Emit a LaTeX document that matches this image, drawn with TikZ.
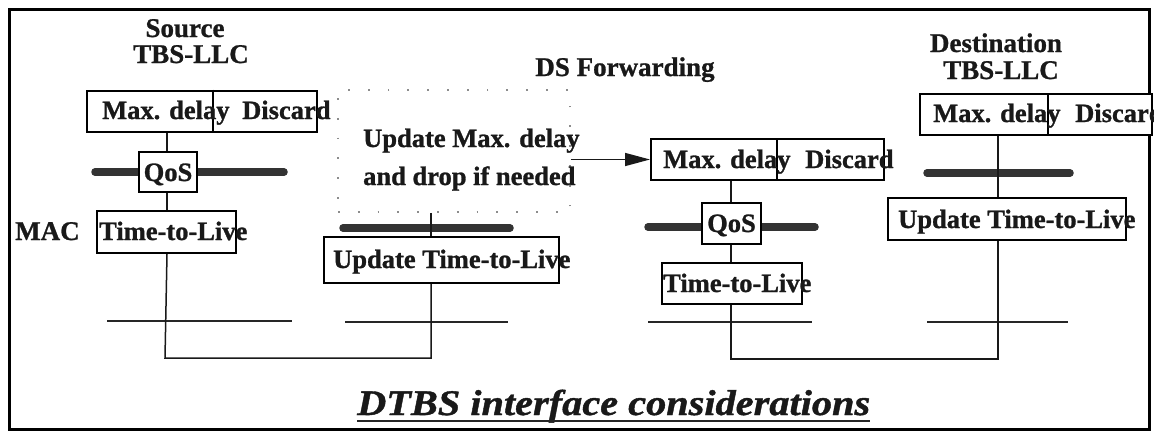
\documentclass[tikz,border=0pt]{standalone}
\usepackage{fontspec}
\setmainfont{Liberation Serif}[FakeBold=0.9]
\newfontfamily\boxfont{Liberation Serif}[FakeBold=1.0]
\newfontfamily\titlefont{Liberation Serif}[FakeStretch=1.12,FakeBold=1.1]
\usetikzlibrary{arrows.meta}
\begin{document}
\begin{tikzpicture}[x=1pt,y=-1pt,
  box/.style={draw=black, line width=2pt, fill=white, inner sep=0pt},
  btxt/.style={inner sep=0pt, text=black!90, font=\boxfont\bfseries\fontsize{26.5}{28}\selectfont},
  ltxt/.style={inner sep=0pt, text=black!90, font=\bfseries\fontsize{27}{30}\selectfont},
  bar/.style={line width=7.5pt, line cap=round, draw=black!80},
  thin/.style={line width=1.4pt, draw=black!85},
  conn/.style={line width=1.5pt, draw=black!90},
  dotbox/.style={draw=black!45, line width=1.8pt, dash pattern=on 1.8pt off 18pt, inner sep=0pt}]
\useasboundingbox (0,0) rectangle (1154,434);
\clip (0,0) rectangle (1154,434);
\fill[white] (0,0) rectangle (1154,434);
% frame
\draw[line width=3pt] (9,9) rectangle (1149,429);

% vertical axis coordinates
\coordinate (sx) at (167,0);
\coordinate (mx) at (431,0);
\coordinate (fx) at (731,0);
\coordinate (dx) at (998,0);

% thick bars and thin lines
\draw[bar] (95,172) -- (284,172);
\draw[bar] (343,228) -- (510,228);
\draw[bar] (648,227) -- (815,227);
\draw[bar] (927,173) -- (1070,173);
\draw[thin] (107,321) -- (292,321);
\draw[thin] (345,322) -- (508,322);
\draw[thin] (648,322) -- (812,322);
\draw[thin] (927,322) -- (1068,322);

% boxes
\node[box, minimum width=230pt, minimum height=41pt] (smax) at (202,111) {};
\node[box, minimum width=58pt, minimum height=40pt] (sqos) at (168,172) {};
\node[box, minimum width=139pt, minimum height=42pt] (sttl) at (166.5,232) {};
\node[dotbox, minimum width=232pt, minimum height=122pt] (dbox) at (454,151) {};
\node[box, minimum width=235pt, minimum height=46pt] (mttl) at (441.5,260) {};
\node[box, minimum width=233pt, minimum height=41pt] (fmax) at (767.5,159.5) {};
\node[box, minimum width=59pt, minimum height=41pt] (fqos) at (731.5,223.5) {};
\node[box, minimum width=140pt, minimum height=41pt] (fttl) at (732,283.5) {};
\node[box, minimum width=232pt, minimum height=41pt] (dmax) at (1036,114.5) {};
\node[box, minimum width=238pt, minimum height=42pt] (dttl) at (1007,219) {};

% dividers
\draw[line width=2pt] ([xshift=11pt]smax.north) -- ([xshift=11pt]smax.south);
\draw[line width=2pt] ([xshift=9.5pt]fmax.north) -- ([xshift=9.5pt]fmax.south);
\draw[line width=2pt] ([xshift=12pt]dmax.north) -- ([xshift=12pt]dmax.south);

% connectors
\draw[conn] (sx |- smax.south) -- (sx |- sqos.north);
\draw[conn] (sx |- sqos.south) -- (sx |- sttl.north);
\draw[conn] (mx |- dbox.south) -- (mx |- mttl.north);
\draw[conn] (sx |- sttl.south) -- (165,358) -- (431,358) -- (mx |- mttl.south);
\draw[conn] (fx |- fmax.south) -- (fx |- fqos.north);
\draw[conn] (fx |- fqos.south) -- (fx |- fttl.north);
\draw[conn] (dx |- dmax.south) -- (dx |- dttl.north);
\draw[conn] (fx |- fttl.south) -- (731,359) -- (998,359) -- (dx |- dttl.south);
\draw[conn, -{Triangle[length=25pt,width=13pt]}] (fmax.west -| dbox.east) -- (fmax.west);

% labels
\node[ltxt, anchor=base] (src1) at (185,37) {Source};
\node[ltxt, anchor=base] (src2) at (191,63) {TBS-LLC};
\node[ltxt, anchor=base] (dsf) at (625,76) {DS Forwarding};
\node[ltxt, anchor=base] (dst1) at (996,52) {Destination};
\node[ltxt, anchor=base] (dst2) at (1001,79) {TBS-LLC};
\node[ltxt, anchor=base west] (mac) at (15,240) {MAC};

% box texts
\node[btxt, anchor=base west] (t1) at (102,119) {Max. delay};
\node[btxt, anchor=base west] (t2) at (242,119) {Discard};
\node[btxt, anchor=base] (t3) at (168,181) {QoS};
\node[btxt, anchor=base west] (t4) at (99,240) {Time-to-Live};
\node[btxt, anchor=base west] (t5) at (363,147) {Update Max. delay};
\node[btxt, anchor=base west] (t6) at (363,185) {and drop if needed};
\node[btxt, anchor=base west] (t7) at (333,268) {Update Time-to-Live};
\node[btxt, anchor=base west] (t8) at (663,168) {Max. delay};
\node[btxt, anchor=base west] (t9) at (805,168) {Discard};
\node[btxt, anchor=base] (t10) at (731.5,232) {QoS};
\node[btxt, anchor=base west] (t11) at (663,292) {Time-to-Live};
\node[btxt, anchor=base west] (t12) at (933,122) {Max. delay};
\node[btxt, anchor=base west] (t13) at (1075,122) {Discard};
\node[btxt, anchor=base west] (t14) at (898,228) {Update Time-to-Live};

% title
\node[inner sep=0pt, anchor=base west, text=black!90, font=\titlefont\bfseries\itshape\fontsize{36}{38}\selectfont] (title) at (357,415) {DTBS interface considerations};
\draw[line width=1.6pt, black!85] ([yshift=-6pt]title.base west) -- ([yshift=-6pt]title.base east);
\end{tikzpicture}
\end{document}
